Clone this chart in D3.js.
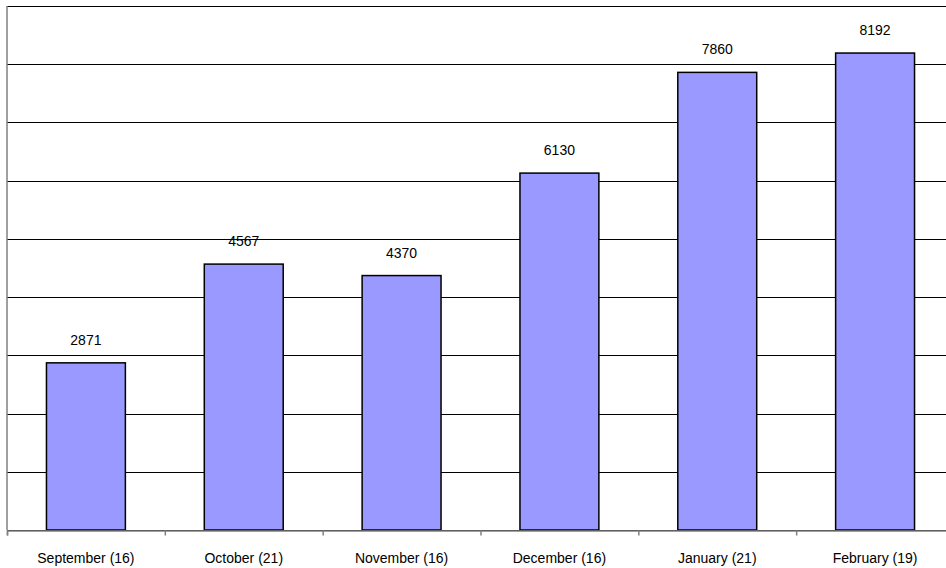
<!DOCTYPE html>
<html><head><meta charset="utf-8">
<script src="https://cdn.jsdelivr.net/npm/d3@7"></script>
<style>html,body{margin:0;padding:0;background:#fff;overflow:hidden}</style>
</head><body>
<svg id="c" width="946" height="568"></svg>
<script>
const categories = ["September (16)","October (21)","November (16)","December (16)","January (21)","February (19)"];
const values = [2871,4567,4370,6130,7860,8192];
const yTicks = [0,1000,2000,3000,4000,5000,6000,7000,8000,9000];

(function(){
const svg = d3.select("#c");
const pL = 7, pR = 954, pT = 6, pB = 530;
const x = d3.scaleBand().domain(categories).range([pL,pR]).paddingInner(0.5).paddingOuter(0.25);
const y = d3.scaleLinear().domain([0,9000]).range([pB,pT]);

// gridlines
svg.append("g").selectAll("line").data(yTicks).join("line")
  .attr("x1",pL).attr("x2",pR)
  .attr("y1",d=>Math.round(y(d))+0.5).attr("y2",d=>Math.round(y(d))+0.5)
  .attr("stroke","#000").attr("stroke-width",1);

// bars
svg.append("g").selectAll("rect").data(values).join("rect")
  .attr("x",(d,i)=>x(categories[i]))
  .attr("width",x.bandwidth())
  .attr("y",d=>y(d))
  .attr("height",d=>y(0)-y(d))
  .attr("fill","#9999FF").attr("stroke","#000").attr("stroke-width",1.5);

// value labels
svg.append("g").selectAll("text").data(values).join("text")
  .attr("x",(d,i)=>x(categories[i])+x.bandwidth()/2)
  .attr("y",d=>y(d)-18)
  .attr("text-anchor","middle")
  .attr("font-family","Liberation Sans, Arial, sans-serif")
  .attr("font-size",14).attr("fill","#000")
  .text(d=>d);

// x axis
const xb = d3.scaleLinear().domain([0,categories.length]).range([pL,pR]);
const gx = svg.append("g").attr("transform",`translate(0,${pB+0.5})`);
gx.call(d3.axisBottom(xb).tickValues(d3.range(0,categories.length+1)).tickSize(5).tickFormat(""));
gx.select(".domain").attr("stroke","#808080").attr("stroke-width",1.5);
gx.selectAll(".tick line").attr("stroke","#808080").attr("stroke-width",1.5);

svg.append("g").selectAll("text").data(categories).join("text")
  .attr("x",d=>x(d)+x.bandwidth()/2)
  .attr("y",563)
  .attr("text-anchor","middle")
  .attr("font-family","Liberation Sans, Arial, sans-serif")
  .attr("font-size",14).attr("fill","#000")
  .text(d=>d);

// y axis line
svg.append("line").attr("x1",pL).attr("x2",pL).attr("y1",pT).attr("y2",pB)
  .attr("stroke","#808080").attr("stroke-width",1.5);
})();
</script>
</body></html>
